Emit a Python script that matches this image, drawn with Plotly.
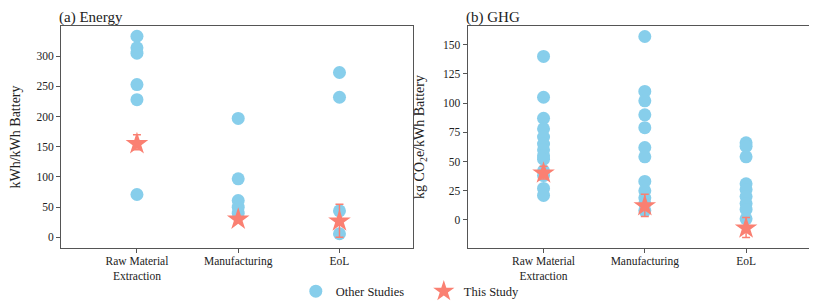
import plotly.graph_objects as go

categories = ["Raw Material<br>Extraction", "Manufacturing", "EoL"]

# Energy (kWh/kWh Battery) - other studies
energy_raw = [333, 314, 305, 253, 228, 71]
energy_mfg = [197, 97, 61, 50, 40]
energy_eol = [273, 232, 44, 6]
# This study
energy_this = [155, 30, 27]
energy_err_plus = [15, 0, 28]
energy_err_minus = [10, 0, 27]

# GHG (kg CO2e/kWh Battery) - other studies
ghg_raw = [140, 105, 87, 78, 71, 65, 60, 55, 52, 42, 38, 27, 21]
ghg_mfg = [157, 110, 102, 90, 79, 62, 54, 33, 25, 19, 14, 8]
ghg_eol = [66, 63, 54, 31, 26, 20, 14, 9, 1]
ghg_this = [40, 12, -7]
ghg_err_plus = [6, 10, 9]
ghg_err_minus = [5, 9, 8]

BLUE = "#87CEEB"
SALMON = "#FA8072"
FONT = "Liberation Serif"

fig = go.Figure()

def add_panel(groups, this_vals, ep, em, xa, ya, show):
    xs, ys = [], []
    for i, g in enumerate(groups):
        xs += [i] * len(g)
        ys += g
    fig.add_trace(go.Scatter(x=xs, y=ys, mode="markers", name="Other Studies",
                             marker=dict(color=BLUE, size=13, line=dict(width=0)),
                             xaxis=xa, yaxis=ya, showlegend=show, legendgroup="o"))
    fig.add_trace(go.Scatter(x=[0, 1, 2], y=this_vals, mode="markers", name="This Study",
                             marker=dict(color=SALMON, size=17, symbol="star", line=dict(width=0)),
                             error_y=dict(type="data", array=ep, arrayminus=em, color=SALMON,
                                          thickness=1.5, width=4),
                             xaxis=xa, yaxis=ya, showlegend=show, legendgroup="t"))

add_panel([energy_raw, energy_mfg, energy_eol], energy_this, energy_err_plus, energy_err_minus, "x", "y", True)
add_panel([ghg_raw, ghg_mfg, ghg_eol], ghg_this, ghg_err_plus, ghg_err_minus, "x2", "y2", False)

axcommon = dict(showline=True, mirror=True, linecolor="#555", linewidth=1, ticks="outside",
                ticklen=4, tickcolor="#555", showgrid=False, zeroline=False,
                tickfont=dict(size=11.5, color="#222", family=FONT))

fig.update_layout(
    width=817, height=302,
    margin=dict(l=42, r=4, t=18, b=54),
    plot_bgcolor="white", paper_bgcolor="white",
    font=dict(family=FONT, color="#222"),
    xaxis=dict(domain=[0, 0.4643], range=[-0.75, 2.73], tickvals=[0, 1, 2], ticktext=categories,
               ticklabelstandoff=-2, **axcommon),
    xaxis2=dict(domain=[0.5357, 1], range=[-0.75, 2.73], tickvals=[0, 1, 2], ticktext=categories,
                ticklabelstandoff=-2, **axcommon),
    yaxis=dict(range=[-17.6, 350], tickvals=[0, 50, 100, 150, 200, 250, 300],
               title=dict(text="kWh/kWh Battery", font=dict(size=14, family=FONT)), **axcommon),
    yaxis2=dict(anchor="x2", range=[-24, 166], tickvals=[0, 25, 50, 75, 100, 125, 150],
                title=dict(text="kg CO<sub>2</sub>e/kWh Battery", font=dict(size=14, family=FONT)), **axcommon),
    legend=dict(orientation="h", x=0.478, xanchor="center", y=-0.196, yanchor="middle",
                bgcolor="rgba(0,0,0,0)", font=dict(size=12.5, family=FONT), itemwidth=30,
                entrywidth=83),
    annotations=[
        dict(text="(a) Energy", x=0, y=1.039, xref="x domain", yref="paper", xanchor="left", yanchor="middle",
             showarrow=False, font=dict(size=15, family=FONT), xshift=-3, borderpad=0),
        dict(text="(b) GHG", x=0, y=1.039, xref="x2 domain", yref="paper", xanchor="left", yanchor="middle",
             showarrow=False, font=dict(size=15, family=FONT), xshift=-3, borderpad=0),
    ],
)

fig.write_html("out.html")
